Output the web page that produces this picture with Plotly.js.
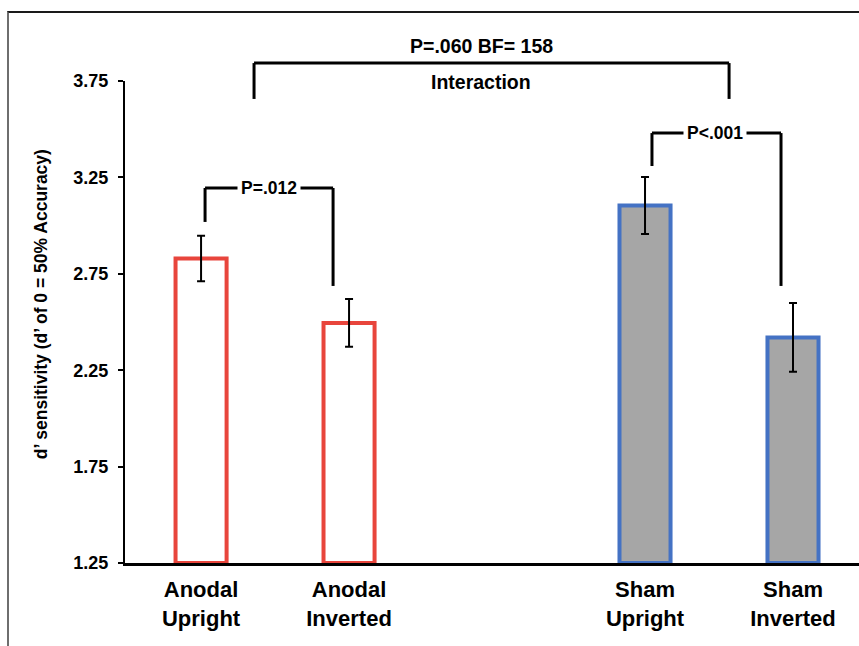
<!DOCTYPE html>
<html>
<head>
<meta charset="utf-8">
<script src="https://cdn.plot.ly/plotly-3.0.1.min.js"></script>
<style>
  html, body { margin: 0; padding: 0; background: #fff; }
  #wrap { position: relative; width: 859px; height: 646px; overflow: hidden; }
  #chart { width: 859px; height: 646px; }
  #frame { position: absolute; left: 7px; top: 11px; width: 900px; height: 700px;
           border-top: 2px solid #1a1a1a; border-left: 2px solid #6e6e6e; pointer-events: none; }
</style>
</head>
<body>
<div id="wrap"><div id="chart"></div><div id="frame"></div></div>
<script>
// ---- data ----
const anodalLabels = ['Anodal<br>Upright', 'Anodal<br>Inverted'];
const shamLabels = ['Sham<br>Upright', 'Sham<br>Inverted'];
const anodalSlots = [0, 1];
const shamSlots = [3, 4];
const anodalMeans = [2.83, 2.495];
const anodalErr = [0.118, 0.124];
const shamMeans = [3.104, 2.42];
const shamErr = [0.148, 0.178];
const yTicks = [1.25, 1.75, 2.25, 2.75, 3.25, 3.75];
const yTitle = 'd’ sensitivity (d’ of 0 = 50% Accuracy)';
const pAnodal = 'P=.012';
const pSham = 'P<.001';
const pInteraction = 'P=.060 BF= 158';
const interactionLabel = 'Interaction';

// ---- layout ----
const FONT = 'Liberation Sans, Arial, Helvetica, sans-serif';
const yMin = 1.25, yMax = 3.75;
const toPaperY = v => (v - yMin) / (yMax - yMin);
const barW = 0.345;

const traces = [
  {
    type: 'bar', x: anodalSlots, y: anodalMeans.map(v => v - yMin), width: barW,
    base: yMin,
    marker: { color: '#ffffff', line: { color: '#E8453C', width: 4 } },
    error_y: { type: 'data', array: anodalErr, visible: true, color: '#000', thickness: 2, width: 4 },
    hoverinfo: 'skip'
  },
  {
    type: 'bar', x: shamSlots, y: shamMeans.map(v => v - yMin), width: barW,
    base: yMin,
    marker: { color: '#A6A6A6', line: { color: '#4472C4', width: 4 } },
    error_y: { type: 'data', array: shamErr, visible: true, color: '#000', thickness: 2, width: 4 },
    hoverinfo: 'skip'
  }
];

const line = { color: '#000', width: 3 };
function bracket(x0, x1, yTop, yL, yR, yref) {
  return [
    { type: 'line', xref: 'x', yref: yref, x0: x0, x1: x0, y0: yL, y1: yTop, line: line },
    { type: 'line', xref: 'x', yref: yref, x0: x0, x1: x1, y0: yTop, y1: yTop, line: line },
    { type: 'line', xref: 'x', yref: yref, x0: x1, x1: x1, y0: yTop, y1: yR, line: line }
  ];
}
const shapes = [].concat(
  bracket(0.027, 0.892, 3.195, 3.019, 2.687, 'y'),
  bracket(3.047, 3.919, 3.480, 3.309, 2.687, 'y'),
  bracket(0.358, 3.568, toPaperY(3.843), toPaperY(3.657), toPaperY(3.657), 'paper')
);

const pFont = { family: FONT, size: 17.5, color: '#000', weight: 'bold' };
const iFont = { family: FONT, size: 19.5, color: '#000', weight: 'bold' };
const annotations = [
  { x: 0.46, y: 3.195, xref: 'x', yref: 'y', text: pAnodal, showarrow: false,
    font: pFont, bgcolor: '#fff', borderpad: 3 },
  { x: 3.476, y: 3.480, xref: 'x', yref: 'y', text: pSham, showarrow: false,
    font: pFont, bgcolor: '#fff', borderpad: 3 },
  { x: 1.892, y: toPaperY(4.0), xref: 'x', yref: 'paper', text: pInteraction, showarrow: false,
    font: iFont },
  { x: 1.892, y: toPaperY(3.812), xref: 'x', yref: 'paper', text: interactionLabel, showarrow: false,
    font: iFont },
  { x: -0.1144, y: 0.537, xref: 'paper', yref: 'paper', xanchor: 'center', yanchor: 'middle',
    text: yTitle, showarrow: false, textangle: -90,
    font: { family: FONT, size: 17.5, color: '#000', weight: 'bold' } }
];

const layout = {
  width: 859, height: 646,
  margin: { l: 125, r: 0, t: 81, b: 83 },
  paper_bgcolor: '#fff', plot_bgcolor: '#fff',
  showlegend: false,
  bargap: 0,
  xaxis: {
    range: [-0.514, 4.446], tickvals: anodalSlots.concat(shamSlots),
    ticktext: anodalLabels.concat(shamLabels),
    showgrid: false, zeroline: false, showline: true, linecolor: '#000', linewidth: 3,
    ticks: '', tickfont: { family: FONT, size: 22, color: '#000', weight: 'bold' },
    ticklabelstandoff: 5, fixedrange: true
  },
  yaxis: {
    range: [yMin, yMax], tickvals: yTicks, ticktext: yTicks.map(v => v.toFixed(2)),
    showgrid: false, zeroline: false, showline: true, linecolor: '#000', linewidth: 2,
    ticks: 'outside', ticklen: 5, tickwidth: 2, tickcolor: '#000',
    tickfont: { family: FONT, size: 18, color: '#000', weight: 'bold' },
    ticklabelstandoff: 6, fixedrange: true
  },
  shapes: shapes,
  annotations: annotations
};

Plotly.newPlot('chart', traces, layout, { displayModeBar: false, staticPlot: true });
</script>
</body>
</html>
